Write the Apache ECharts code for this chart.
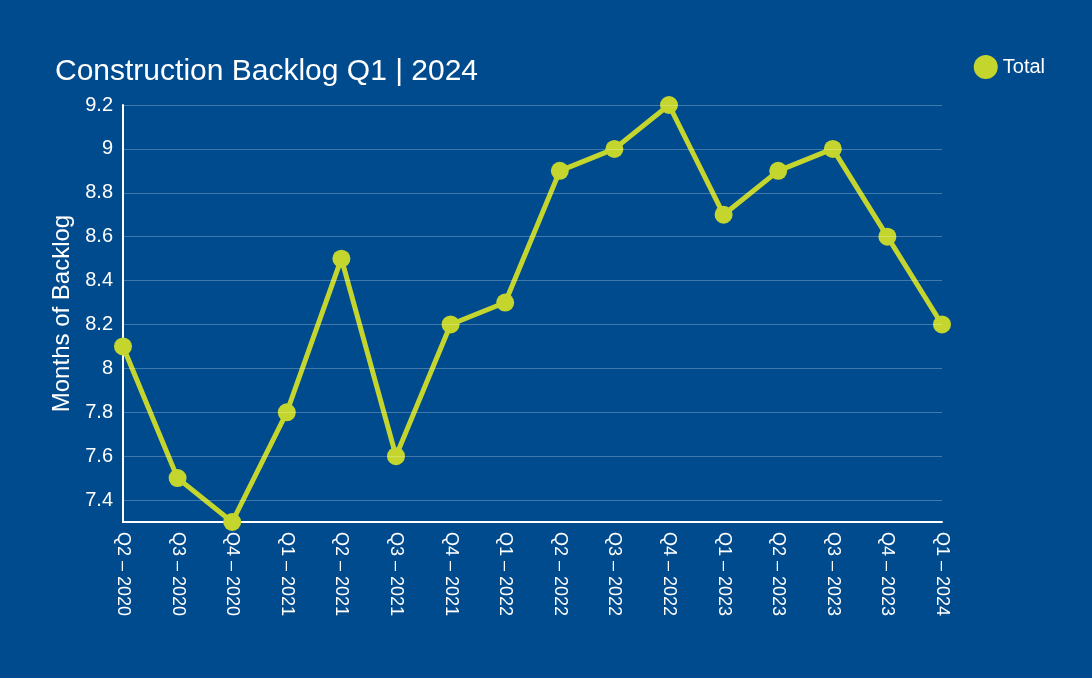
<!DOCTYPE html>
<html><head><meta charset="utf-8">
<script src="https://cdn.jsdelivr.net/npm/echarts@6/dist/echarts.min.js"></script>
<style>html,body{margin:0;padding:0;background:#004b8d}#c{width:1092px;height:678px}</style>
</head><body><div id="c"></div>
<script>
const categories = ["Q2 – 2020","Q3 – 2020","Q4 – 2020","Q1 – 2021","Q2 – 2021","Q3 – 2021","Q4 – 2021","Q1 – 2022","Q2 – 2022","Q3 – 2022","Q4 – 2022","Q1 – 2023","Q2 – 2023","Q3 – 2023","Q4 – 2023","Q1 – 2024"];
const totals = [8.1,7.5,7.3,7.8,8.5,7.6,8.2,8.3,8.9,9.0,9.2,8.7,8.9,9.0,8.6,8.2];
const gridValues = [7.4,7.6,7.8,8.0,8.2,8.4,8.6,8.8,9.0,9.2];
const chart = echarts.init(document.getElementById('c'));
chart.setOption({
  backgroundColor:'#004b8d',
  textStyle:{fontFamily:'Liberation Sans, Arial, sans-serif'},
  title:{text:'Construction Backlog Q1 | 2024',left:50,top:52,textStyle:{color:'#fff',fontSize:30,fontWeight:'normal',fontFamily:'Liberation Sans, Arial, sans-serif'}},
  legend:{right:42,top:50,icon:'circle',itemWidth:24,itemHeight:24,textStyle:{color:'#fff',fontSize:20},data:['Total']},
  grid:{left:123,right:150,top:105,bottom:156},
  xAxis:{type:'category',data:categories,boundaryGap:false,
    axisLine:{lineStyle:{color:'#fff',width:2}},axisTick:{show:false},
    axisLabel:{color:'#fff',fontSize:18,rotate:-90,interval:0,margin:10}},
  yAxis:{type:'value',min:7.3,max:9.2,interval:0.1,
    name:'Months of Backlog',nameLocation:'middle',nameGap:45,nameTextStyle:{color:'#fff',fontSize:24},
    axisLine:{show:true,lineStyle:{color:'#fff',width:2}},axisTick:{show:false},splitLine:{show:false},
    axisLabel:{color:'#fff',fontSize:20,margin:10,formatter:v=>{const t=Math.round(v*10);return t%2===0?String(t/10):'';}}},
  series:[{name:'Total',type:'line',data:totals,color:'#c4d62e',
    lineStyle:{width:5,color:'#c4d62e'},symbol:'circle',symbolSize:18,itemStyle:{color:'#c4d62e'},
    markLine:{silent:true,symbol:'none',label:{show:false},lineStyle:{color:'rgba(255,255,255,0.25)',type:'solid',width:1},
      data:gridValues.map(v=>({yAxis:v}))},z:3}]
});
</script></body></html>
